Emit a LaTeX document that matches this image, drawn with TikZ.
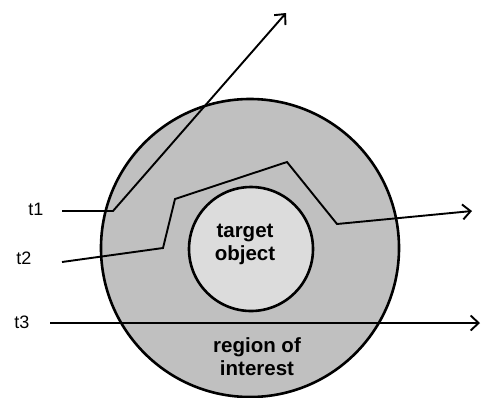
\documentclass[tikz,border=0pt]{standalone}
\usepackage{fontspec}
\setmainfont{Liberation Sans}
\usetikzlibrary{arrows.meta}
\begin{document}
\begin{tikzpicture}[x=1pt,y=-1pt,
  ray/.style={line width=1.9pt,-{Straight Barb[length=8pt,width=15pt,line width=1.9pt]}},
  lbl/.style={font=\fontsize{18}{21}\selectfont},
  inner/.style={font=\bfseries\fontsize{20.5}{23}\selectfont,align=center}]
\useasboundingbox (0,0) rectangle (481,397);
\fill[white] (0,0) rectangle (481,397);
\node[circle,draw,line width=2.6pt,fill={rgb,255:red,192;green,192;blue,192},minimum size=298pt,inner sep=0pt] (roi) at (250,248) {};
\node[circle,draw,line width=2.6pt,fill={rgb,255:red,220;green,220;blue,220},minimum size=124pt,inner sep=0pt] (obj) at (251,249) {};
\node[inner] (objtxt) at (245,244) {target\\object};
\node[inner] (roitxt) at (257,357) {region of\\interest};
\node[lbl] (t1) at (36,209) {t1};
\node[lbl] (t2) at (24,258) {t2};
\node[lbl] (t3) at (22,322) {t3};
\coordinate (a0) at (62,211);
\coordinate (a1) at (113,211);
\coordinate (a2) at (286,13);
\draw[ray] (a0) -- (a1) -- (a2);
\coordinate (b0) at (62,262);
\coordinate (b1) at (163,248);
\coordinate (b2) at (175,199);
\coordinate (b3) at (287,162);
\coordinate (b4) at (337,224);
\coordinate (b5) at (472,211);
\draw[ray] (b0) -- (b1) -- (b2) -- (b3) -- (b4) -- (b5);
\coordinate (c0) at (50,323);
\coordinate (c1) at (480,323);
\draw[ray] (c0) -- (c1);
\end{tikzpicture}
\end{document}
